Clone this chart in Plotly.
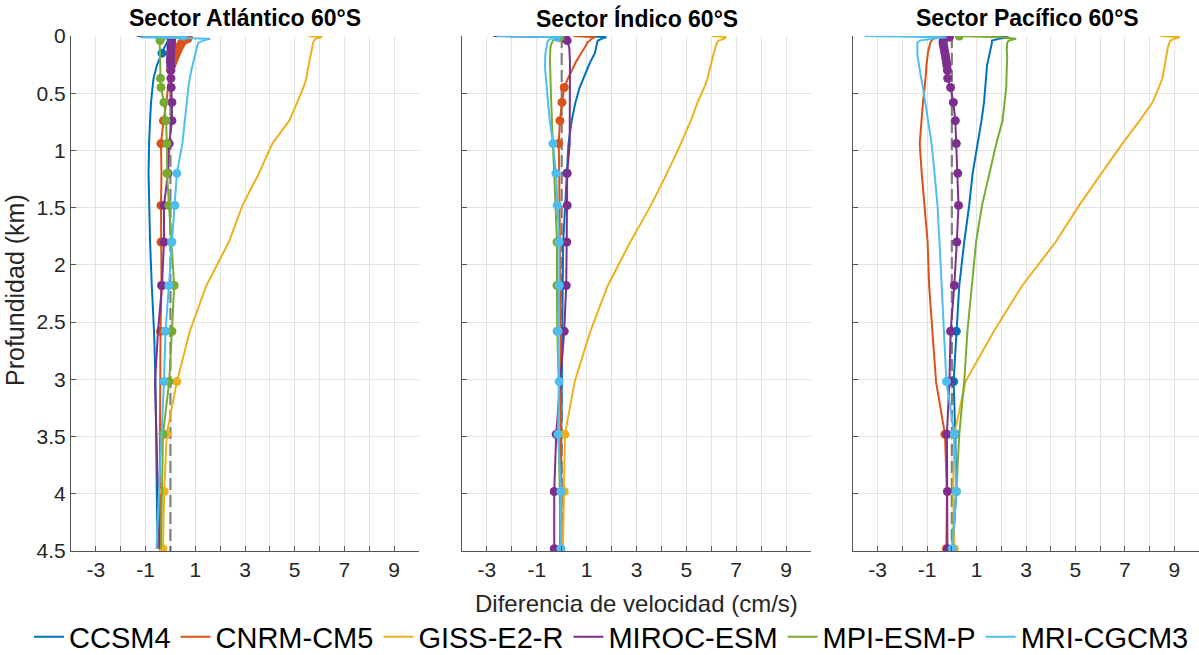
import plotly.graph_objects as go

# depth levels (km)
depth = [0.0, 0.01, 0.025, 0.04, 0.06, 0.08, 0.10, 0.125, 0.15, 0.175, 0.20, 0.23, 0.26, 0.30,
         0.37, 0.45, 0.58, 0.74, 0.94, 1.20, 1.48, 1.80, 2.18, 2.58, 3.02, 3.48, 3.98, 4.48]

models = ["CCSM4", "CNRM-CM5", "GISS-E2-R", "MIROC-ESM", "MPI-ESM-P", "MRI-CGCM3"]
colors = ["#0072BD", "#D95319", "#EDB120", "#7E2F8E", "#77AC30", "#4DBEEE"]
sectors = ["Sector Atlántico 60°S", "Sector Índico 60°S", "Sector Pacífico 60°S"]

# ---- Sector Atlántico ----
atl_ccsm4 = [0.10, 0.05, -0.05, -0.10, -0.15, -0.20, -0.25, -0.30, -0.34, -0.40, -0.45, -0.50, -0.55, -0.60,
             -0.68, -0.72, -0.78, -0.82, -0.86, -0.88, -0.86, -0.82, -0.75, -0.66, -0.60, -0.57, -0.55, -0.52]
atl_cnrm = [0.30, 0.90, 0.70, 0.55, 0.45, 0.40, 0.35, 0.30, 0.25, 0.20, 0.15, 0.10, 0.05, 0.00,
            -0.05, -0.10, -0.16, -0.28, -0.38, -0.36, -0.38, -0.38, -0.36, -0.40, -0.42, -0.42, -0.42, -0.40]
atl_giss = [5.55, 6.10, 5.85, 5.78, 5.74, 5.72, 5.70, 5.68, 5.66, 5.64, 5.62, 5.59, 5.56, 5.52,
            5.47, 5.35, 5.10, 4.78, 4.10, 3.56, 2.90, 2.35, 1.45, 0.78, 0.26, -0.15, -0.25, -0.30]
atl_miroc = [-1.35, 0.00, 0.05, 0.05, 0.04, 0.03, 0.02, 0.02, 0.01, 0.01, 0.00, 0.00, 0.01, 0.02,
             0.02, 0.03, 0.06, 0.06, -0.05, -0.10, -0.26, -0.26, -0.34, -0.50, -0.62, -0.56, -0.50, -0.44]
atl_mpi = [-1.10, -0.35, -0.40, -0.42, -0.43, -0.43, -0.43, -0.43, -0.43, -0.43, -0.42, -0.42, -0.42, -0.41,
           -0.40, -0.38, -0.26, -0.18, -0.14, -0.14, -0.06, 0.04, 0.15, 0.06, -0.05, -0.30, -0.34, -0.38]
atl_mri = [0.50, -1.20, 1.60, 1.30, 1.12, 1.08, 1.06, 1.04, 1.01, 0.98, 0.95, 0.91, 0.88, 0.84,
           0.78, 0.72, 0.66, 0.58, 0.48, 0.26, 0.18, 0.06, -0.06, -0.20, -0.26, -0.36, -0.46, -0.56]

# ---- Sector Índico ----
ind_ccsm4 = [0.86, 1.80, 1.60, 1.45, 1.42, 1.40, 1.40, 1.38, 1.33, 1.27, 1.20, 1.14, 1.08, 1.00,
             0.86, 0.72, 0.55, 0.40, 0.27, 0.20, 0.14, 0.06, 0.04, 0.02, 0.00, -0.02, -0.04, -0.06]
ind_cnrm = [0.47, 1.34, 1.20, 1.10, 1.02, 0.98, 0.92, 0.85, 0.77, 0.70, 0.63, 0.56, 0.50, 0.40,
            0.25, 0.10, 0.01, -0.07, -0.12, -0.10, -0.08, -0.06, -0.06, -0.05, -0.04, -0.04, -0.02, 0.00]
ind_giss = [6.03, 6.60, 6.50, 6.30, 6.22, 6.20, 6.17, 6.14, 6.10, 6.07, 6.04, 6.00, 5.97, 5.94,
            5.85, 5.72, 5.45, 5.18, 4.78, 4.22, 3.58, 2.75, 1.85, 1.15, 0.52, 0.13, 0.10, 0.05]
ind_miroc = [-2.75, -0.10, 0.15, 0.22, 0.25, 0.28, 0.30, 0.31, 0.32, 0.33, 0.33, 0.33, 0.33, 0.33,
             0.33, 0.33, 0.33, 0.33, 0.32, 0.22, 0.22, 0.20, 0.18, 0.10, -0.06, -0.22, -0.30, -0.30]
ind_mpi = [-1.40, -0.07, -0.25, -0.35, -0.40, -0.43, -0.45, -0.46, -0.47, -0.47, -0.47, -0.47, -0.47, -0.46,
           -0.45, -0.44, -0.42, -0.40, -0.36, -0.30, -0.24, -0.19, -0.19, -0.18, -0.12, -0.12, -0.08, -0.05]
ind_mri = [-2.60, -0.20, -0.45, -0.55, -0.58, -0.60, -0.62, -0.64, -0.65, -0.66, -0.67, -0.67, -0.67, -0.66,
           -0.64, -0.60, -0.55, -0.48, -0.35, -0.23, -0.18, -0.10, -0.10, -0.15, -0.10, -0.15, -0.03, -0.03]

# ---- Sector Pacífico ----
pac_ccsm4 = [1.60, 2.30, 1.90, 1.62, 1.62, 1.60, 1.56, 1.53, 1.50, 1.48, 1.46, 1.44, 1.42, 1.41,
             1.38, 1.36, 1.30, 1.20, 1.04, 0.84, 0.70, 0.50, 0.30, 0.18, 0.07, 0.14, 0.18, 0.03]
pac_cnrm = [-0.38, -0.60, -0.75, -0.82, -0.87, -0.90, -0.93, -0.95, -0.97, -0.99, -1.01, -1.02, -1.03, -1.04,
            -1.06, -1.10, -1.17, -1.23, -1.30, -1.22, -1.10, -0.98, -0.92, -0.80, -0.64, -0.28, -0.20, -0.22]
pac_giss = [8.43, 9.23, 9.00, 8.85, 8.80, 8.76, 8.74, 8.72, 8.70, 8.68, 8.66, 8.64, 8.62, 8.58,
            8.52, 8.38, 8.12, 7.60, 6.90, 6.05, 5.15, 4.20, 2.85, 1.70, 0.55, 0.10, 0.05, 0.10]
pac_miroc = [-1.40, -0.10, -0.30, -0.35, -0.36, -0.34, -0.32, -0.30, -0.28, -0.26, -0.24, -0.22, -0.20, -0.18,
             -0.17, -0.05, 0.06, 0.14, 0.18, 0.24, 0.27, 0.20, 0.10, -0.05, -0.10, -0.20, -0.18, -0.18]
pac_mpi = [0.30, 2.00, 2.60, 2.30, 2.24, 2.23, 2.22, 2.22, 2.23, 2.24, 2.24, 2.23, 2.22, 2.22,
           2.21, 2.20, 2.14, 2.05, 1.80, 1.52, 1.22, 0.98, 0.80, 0.63, 0.50, 0.30, 0.18, 0.00]
pac_mri = [-3.52, -0.22, -0.80, -1.30, -1.40, -1.40, -1.42, -1.42, -1.41, -1.39, -1.37, -1.35, -1.33, -1.30,
           -1.24, -1.17, -1.08, -0.98, -0.82, -0.70, -0.58, -0.50, -0.42, -0.32, -0.22, 0.10, 0.18, 0.02]

# indices of depth levels marked with a dot (per sector, per model)
atl_marks = [[0, 8],
             [2, 3, 4, 5, 6, 7, 8, 9, 10, 11, 12, 13, 17, 18, 20, 21, 22, 23],
             [24, 25, 26, 27],
             list(range(1, 23)),
             [1, 2, 3, 14, 15, 16, 17, 18, 19, 20, 21, 22, 23, 24, 25],
             [0, 19, 20, 21, 22, 23, 24]]
ind_marks = [[19],
             [15, 16, 17, 18],
             [25, 26],
             [1, 2, 3, 19, 20, 21, 22, 23, 25, 26, 27],
             [1, 21, 22, 23],
             [1, 18, 19, 20, 21, 22, 23, 24, 25, 26, 27]]
pac_marks = [[23, 24, 25],
             [0, 25, 27],
             [27],
             list(range(1, 28)),
             [0, 26],
             [24, 25, 26, 27]]

xtick_vals = list(range(-4, 11))
xtick_text = [str(v) if v % 2 != 0 else "" for v in xtick_vals]
ytick_vals = [0, 0.5, 1, 1.5, 2, 2.5, 3, 3.5, 4, 4.5]
ytick_text = ["0", "0.5", "1", "1.5", "2", "2.5", "3", "3.5", "4", "4.5"]

data = [
    [atl_ccsm4, atl_cnrm, atl_giss, atl_miroc, atl_mpi, atl_mri],
    [ind_ccsm4, ind_cnrm, ind_giss, ind_miroc, ind_mpi, ind_mri],
    [pac_ccsm4, pac_cnrm, pac_giss, pac_miroc, pac_mpi, pac_mri],
]
marks = [atl_marks, ind_marks, pac_marks]

W, H = 1199, 655
xdomains = [[71 / W, 419 / W], [462 / W, 811 / W], [853 / W, 1.0]]
ydomain = [1 - 551 / H, 1 - 36 / H]

FONT = "Liberation Sans, Arial, sans-serif"
TXT = "#262626"

fig = go.Figure()

for s in range(3):
    xa = "x" if s == 0 else f"x{s+1}"
    ya = "y" if s == 0 else f"y{s+1}"
    # zero reference line
    fig.add_trace(go.Scatter(x=[0, 0], y=[0, 4.5], mode="lines", xaxis=xa, yaxis=ya,
                             line=dict(color="#808080", width=2.2, dash="12px,5px"),
                             showlegend=False, hoverinfo="skip"))
    for m in range(6):
        vals = data[s][m]
        fig.add_trace(go.Scatter(x=vals, y=depth, mode="lines", xaxis=xa, yaxis=ya,
                                 name=models[m], legendgroup=models[m], showlegend=(s == 0),
                                 line=dict(color=colors[m], width=2)))
        idx = marks[s][m]
        fig.add_trace(go.Scatter(x=[vals[i] for i in idx], y=[depth[i] for i in idx],
                                 mode="markers", xaxis=xa, yaxis=ya, legendgroup=models[m],
                                 showlegend=False,
                                 marker=dict(color=colors[m], size=9, line=dict(width=0))))

layout = dict(
    width=W, height=H,
    margin=dict(l=0, r=0, t=0, b=0, autoexpand=False),
    paper_bgcolor="white", plot_bgcolor="white",
    font=dict(family=FONT, color=TXT),
    showlegend=True,
    legend=dict(orientation="h", x=0.51, xanchor="center", y=1 - 637 / H, yanchor="middle",
                font=dict(size=29, color="black", family=FONT), bgcolor="rgba(0,0,0,0)",
                itemwidth=30, tracegroupgap=0),
)

for s in range(3):
    xk = "xaxis" if s == 0 else f"xaxis{s+1}"
    yk = "yaxis" if s == 0 else f"yaxis{s+1}"
    ya = "y" if s == 0 else f"y{s+1}"
    xa = "x" if s == 0 else f"x{s+1}"
    layout[xk] = dict(domain=xdomains[s], range=[-4, 10], anchor=ya,
                      tickmode="array", tickvals=xtick_vals, ticktext=xtick_text,
                      ticks="inside", ticklen=5, tickcolor="#555555",
                      showline=True, linecolor="#555555", linewidth=1,
                      showgrid=True, gridcolor="#e3e3e3", gridwidth=1, zeroline=False,
                      automargin=False,
                      tickfont=dict(size=21, color=TXT, family=FONT))
    layout[yk] = dict(domain=ydomain, range=[4.5, 0], anchor=xa,
                      tickmode="array", tickvals=ytick_vals, ticktext=ytick_text,
                      showticklabels=(s == 0),
                      ticks="inside", ticklen=5, tickcolor="#555555",
                      showline=True, linecolor="#555555", linewidth=1,
                      showgrid=True, gridcolor="#e3e3e3", gridwidth=1, zeroline=False,
                      automargin=False,
                      tickfont=dict(size=21, color=TXT, family=FONT))

annotations = []
for s in range(3):
    cx = (xdomains[s][0] + (xdomains[s][1] if s < 2 else 1201 / W)) / 2
    annotations.append(dict(text=f"<b>{sectors[s]}</b>", x=cx, y=1 - 18 / H, xref="paper", yref="paper",
                            xanchor="center", yanchor="middle", showarrow=False,
                            font=dict(size=23, color="black", family=FONT)))
annotations.append(dict(text="Profundidad (km)", x=15 / W, y=1 - 290 / H, xref="paper", yref="paper",
                        xanchor="center", yanchor="middle", textangle=-90, showarrow=False,
                        font=dict(size=25, color=TXT, family=FONT)))
annotations.append(dict(text="Diferencia de velocidad (cm/s)", x=636.5 / W, y=1 - 603 / H,
                        xref="paper", yref="paper", xanchor="center", yanchor="middle", showarrow=False,
                        font=dict(size=24, color=TXT, family=FONT)))
layout["annotations"] = annotations

fig.update_layout(**layout)
fig.write_html("out.html")
